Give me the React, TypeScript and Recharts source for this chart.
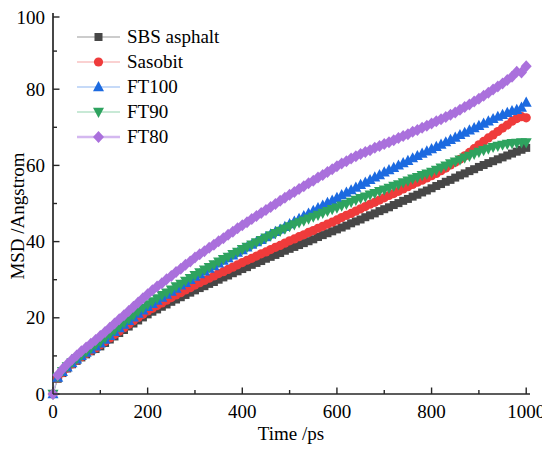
import { LineChart, Line, XAxis, YAxis } from "recharts";

// time axis, ps
const TIME = [
  0, 10, 20, 30, 40, 50, 60, 70, 80, 90, 100, 110, 120, 130, 140, 150, 160, 170, 180, 190, 200,
  210, 220, 230, 240, 250, 260, 270, 280, 290, 300, 310, 320, 330, 340, 350, 360, 370, 380, 390, 400,
  410, 420, 430, 440, 450, 460, 470, 480, 490, 500, 510, 520, 530, 540, 550, 560, 570, 580, 590, 600,
  610, 620, 630, 640, 650, 660, 670, 680, 690, 700, 710, 720, 730, 740, 750, 760, 770, 780, 790, 800,
  810, 820, 830, 840, 850, 860, 870, 880, 890, 900, 910, 920, 930, 940, 950, 960, 970, 980, 990, 1000,
];

const SBS = [
  0, 4.0, 5.5, 6.7, 7.8, 8.7, 9.6, 10.4, 11.2, 11.8, 12.5,
  13.4, 14.3, 15.1, 16.0, 16.8, 17.7, 18.5, 19.3, 20.1, 20.9,
  21.6, 22.2, 22.9, 23.5, 24.2, 24.8, 25.4, 26.0, 26.6, 27.2,
  27.8, 28.3, 28.9, 29.4, 30.0, 30.6, 31.1, 31.7, 32.2, 32.8,
  33.3, 33.9, 34.4, 34.9, 35.5, 36.0, 36.5, 37.0, 37.6, 38.1,
  38.6, 39.1, 39.6, 40.1, 40.6, 41.2, 41.7, 42.2, 42.7, 43.2,
  43.7, 44.2, 44.8, 45.3, 45.8, 46.4, 46.9, 47.4, 48.0, 48.5,
  49.0, 49.6, 50.1, 50.7, 51.2, 51.8, 52.3, 52.9, 53.4, 54.0,
  54.6, 55.1, 55.7, 56.2, 56.8, 57.4, 57.9, 58.5, 59.0, 59.6,
  60.1, 60.6, 61.1, 61.6, 62.1, 62.6, 63.1, 63.6, 64.1, 64.6,
];

const SASOBIT = [
  0, 4.2, 5.6, 6.8, 7.9, 8.9, 9.8, 10.6, 11.4, 12.1, 12.9,
  13.8, 14.7, 15.6, 16.5, 17.4, 18.3, 19.2, 20.1, 20.9, 21.8,
  22.5, 23.2, 23.9, 24.6, 25.3, 26.0, 26.6, 27.3, 27.9, 28.6,
  29.2, 29.8, 30.4, 31.0, 31.6, 32.1, 32.7, 33.3, 33.9, 34.5,
  35.1, 35.6, 36.2, 36.8, 37.3, 37.9, 38.5, 39.0, 39.6, 40.2,
  40.7, 41.3, 41.8, 42.4, 42.9, 43.5, 44.0, 44.6, 45.1, 45.7,
  46.3, 46.9, 47.4, 48.0, 48.6, 49.2, 49.8, 50.3, 50.9, 51.5,
  52.1, 52.6, 53.2, 53.8, 54.4, 55.0, 55.6, 56.1, 56.7, 57.3,
  57.9, 58.6, 59.3, 60.1, 60.8, 61.6, 62.5, 63.4, 64.4, 65.4,
  66.3, 67.2, 68.0, 68.9, 69.8, 70.6, 71.6, 72.3, 72.8, 72.5,
];

const FT100 = [
  0, 4.3, 5.8, 7.0, 8.1, 9.1, 10.0, 10.9, 11.7, 12.5, 13.3,
  14.3, 15.3, 16.3, 17.3, 18.2, 19.2, 20.1, 21.1, 22.0, 22.9,
  23.7, 24.5, 25.3, 26.1, 26.9, 27.7, 28.5, 29.2, 30.0, 30.8,
  31.5, 32.2, 32.9, 33.6, 34.3, 35.0, 35.7, 36.4, 37.1, 37.8,
  38.5, 39.2, 39.9, 40.5, 41.2, 41.9, 42.6, 43.2, 43.9, 44.6,
  45.3, 46.0, 46.7, 47.4, 48.1, 48.8, 49.5, 50.2, 50.8, 51.5,
  52.2, 52.9, 53.5, 54.2, 54.9, 55.5, 56.2, 56.9, 57.5, 58.2,
  58.8, 59.4, 60.0, 60.6, 61.2, 61.9, 62.5, 63.1, 63.7, 64.3,
  64.9, 65.5, 66.1, 66.7, 67.3, 68.0, 68.6, 69.2, 69.8, 70.4,
  71.0, 71.6, 72.2, 72.8, 73.3, 73.8, 74.3, 74.6, 75.2, 76.5,
];

const FT90 = [
  0, 4.5, 6.0, 7.2, 8.3, 9.3, 10.2, 11.1, 12.0, 12.9, 13.7,
  14.7, 15.7, 16.7, 17.7, 18.7, 19.7, 20.7, 21.7, 22.6, 23.5,
  24.3, 25.1, 25.9, 26.6, 27.4, 28.2, 28.9, 29.7, 30.4, 31.2,
  31.9, 32.6, 33.3, 34.0, 34.7, 35.4, 36.0, 36.7, 37.3, 38.0,
  38.6, 39.2, 39.8, 40.4, 41.0, 41.6, 42.2, 42.8, 43.4, 44.0,
  44.5, 45.0, 45.5, 46.0, 46.5, 47.0, 47.5, 48.0, 48.5, 48.9,
  49.4, 49.9, 50.4, 50.9, 51.4, 51.8, 52.3, 52.7, 53.2, 53.6,
  54.1, 54.6, 55.0, 55.5, 56.0, 56.5, 56.9, 57.4, 57.8, 58.3,
  58.8, 59.4, 59.9, 60.5, 61.0, 61.5, 62.0, 62.5, 63.0, 63.5,
  64.0, 64.4, 64.8, 65.1, 65.4, 65.6, 65.8, 65.9, 66.0, 66.0,
];

const FT80 = [
  0, 5.0, 6.5, 7.8, 9.0, 10.1, 11.2, 12.2, 13.2, 14.2, 15.2,
  16.3, 17.4, 18.5, 19.6, 20.7, 21.8, 22.9, 24.0, 25.1, 26.2,
  27.2, 28.2, 29.1, 30.1, 31.0, 32.0, 32.9, 33.9, 34.8, 35.8,
  36.7, 37.5, 38.4, 39.2, 40.1, 40.9, 41.8, 42.6, 43.5, 44.3,
  45.1, 45.9, 46.7, 47.5, 48.3, 49.1, 49.9, 50.7, 51.5, 52.3,
  53.0, 53.8, 54.5, 55.3, 56.0, 56.8, 57.5, 58.3, 59.0, 59.8,
  60.5, 61.1, 61.8, 62.4, 63.0, 63.5, 64.0, 64.6, 65.1, 65.6,
  66.1, 66.6, 67.2, 67.7, 68.2, 68.8, 69.3, 69.9, 70.4, 71.0,
  71.6, 72.1, 72.7, 73.3, 73.9, 74.6, 75.3, 76.0, 76.8, 77.5,
  78.3, 79.1, 79.9, 80.7, 81.5, 82.4, 83.3, 84.6, 84.4, 86.0,
];

const X_TICKS = [0, 100, 200, 300, 400, 500, 600, 700, 800, 900, 1000];
const Y_TICKS = [0, 10, 20, 30, 40, 50, 60, 70, 80, 90, 100];

const FONT = "'Liberation Serif', 'Times New Roman', serif";
const AXIS = "#262626";
const INK = "#000";

type Shape = "square" | "circle" | "up" | "down" | "diamond";

const SERIES: { key: string; name: string; shape: Shape; color: string; line: string; lw: number }[] = [
  { key: "sbs", name: "SBS asphalt", shape: "square", color: "#474747", line: "#9a9a9a", lw: 1.2 },
  { key: "sasobit", name: "Sasobit", shape: "circle", color: "#ef3b3b", line: "#f5a3a3", lw: 1.2 },
  { key: "ft100", name: "FT100", shape: "up", color: "#1c6ae0", line: "#8db6f2", lw: 1.2 },
  { key: "ft90", name: "FT90", shape: "down", color: "#2ea35f", line: "#92d3ad", lw: 1.2 },
  { key: "ft80", name: "FT80", shape: "diamond", color: "#aa70dc", line: "#d4b8f0", lw: 2.5 },
];

const data = TIME.map((t, i) => ({
  t,
  sbs: SBS[i],
  sasobit: SASOBIT[i],
  ft100: FT100[i],
  ft90: FT90[i],
  ft80: FT80[i],
}));

function Marker({ shape, cx, cy, color }: { shape: Shape; cx: number; cy: number; color: string }) {
  if (shape === "square") return <rect x={cx - 4} y={cy - 4} width={8} height={8} fill={color} />;
  if (shape === "circle") return <circle cx={cx} cy={cy} r={4.6} fill={color} />;
  if (shape === "up")
    return <polygon points={`${cx},${cy - 6} ${cx - 5.5},${cy + 4.2} ${cx + 5.5},${cy + 4.2}`} fill={color} />;
  if (shape === "down")
    return <polygon points={`${cx - 5.5},${cy - 4.2} ${cx + 5.5},${cy - 4.2} ${cx},${cy + 6}`} fill={color} />;
  return <polygon points={`${cx},${cy - 6} ${cx + 5.5},${cy} ${cx},${cy + 6} ${cx - 5.5},${cy}`} fill={color} />;
}

function XTick(props: any) {
  const { x, y, payload } = props;
  const major = payload.value % 200 === 0;
  return (
    <g>
      <line x1={x} y1={y} x2={x} y2={y - (major ? 6.5 : 4)} stroke={AXIS} strokeWidth={1.4} />
      {major && (
        <text x={x} y={y + 24} textAnchor="middle" fontSize={19} fontFamily={FONT} fill={INK}>
          {payload.value}
        </text>
      )}
    </g>
  );
}

function YTick(props: any) {
  const { x, y, payload } = props;
  const major = payload.value % 20 === 0;
  return (
    <g>
      <line x1={x} y1={y} x2={x + (major ? 6.5 : 4)} y2={y} stroke={AXIS} strokeWidth={1.4} />
      {major && (
        <text x={x - 8} y={y + 6.5} textAnchor="end" fontSize={19} fontFamily={FONT} fill={INK}>
          {payload.value}
        </text>
      )}
    </g>
  );
}

// legend drawn over the plot, outside recharts layout so it takes no room
function LegendBox() {
  return (
    <div style={{ position: "absolute", left: 69, top: 17, fontFamily: FONT, fontSize: 19, color: INK }}>
      {SERIES.map((s) => (
        <div key={s.key} style={{ display: "flex", alignItems: "center", height: 24.8 }}>
          <svg width={50} height={24} style={{ display: "block" }}>
            <line x1={0} y1={12} x2={43} y2={12} stroke={s.line} strokeWidth={s.lw} />
            <Marker shape={s.shape} cx={21.5} cy={12} color={s.color} />
          </svg>
          <span style={{ lineHeight: "24px", whiteSpace: "nowrap" }}>{s.name}</span>
        </div>
      ))}
    </div>
  );
}

export default function App() {
  return (
    <div style={{ position: "relative", width: 542, height: 443 }}>
      <LineChart width={542} height={443} data={data} margin={{ top: 5, right: 20, left: 0, bottom: 0 }}>
        <XAxis
          dataKey="t"
          type="number"
          domain={[0, 1008]}
          ticks={X_TICKS}
          tickSize={0}
          tickMargin={0}
          tickLine={false}
          tick={<XTick />}
          height={57}
          axisLine={{ stroke: AXIS, strokeWidth: 1.7 }}
          label={() => (
            <text x={283} y={432} textAnchor="middle" fontSize={19} fontFamily={FONT} fill={INK}>
              Time /ps
            </text>
          )}
        />
        <XAxis xAxisId="top" orientation="top" type="number" domain={[0, 1008]} height={0} tick={false} tickLine={false} axisLine={{ stroke: AXIS, strokeWidth: 1.7 }} />
        <YAxis
          type="number"
          domain={[0, 100]}
          ticks={Y_TICKS}
          tickSize={0}
          tickMargin={0}
          tickLine={false}
          tick={<YTick />}
          width={45}
          axisLine={{ stroke: AXIS, strokeWidth: 1.7 }}
          label={() => (
            <text
              x={9}
              y={208}
              transform="rotate(-90 9 208)"
              textAnchor="middle"
              dominantBaseline="central"
              fontSize={19}
              fontFamily={FONT}
              fill={INK}
            >
              MSD /Angstrom
            </text>
          )}
        />
        <YAxis yAxisId="right" orientation="right" type="number" domain={[0, 100]} width={0} tick={false} tickLine={false} axisLine={{ stroke: AXIS, strokeWidth: 1.7 }} />
        {SERIES.map((s) => (
          <Line
            key={s.key}
            dataKey={s.key}
            name={s.name}
            stroke={s.line}
            strokeWidth={1}
            isAnimationActive={false}
            activeDot={false}
            dot={(p: any) => <Marker key={`${s.key}-${p.index}`} shape={s.shape} cx={p.cx} cy={p.cy} color={s.color} />}
          />
        ))}
      </LineChart>
      <LegendBox />
    </div>
  );
}
